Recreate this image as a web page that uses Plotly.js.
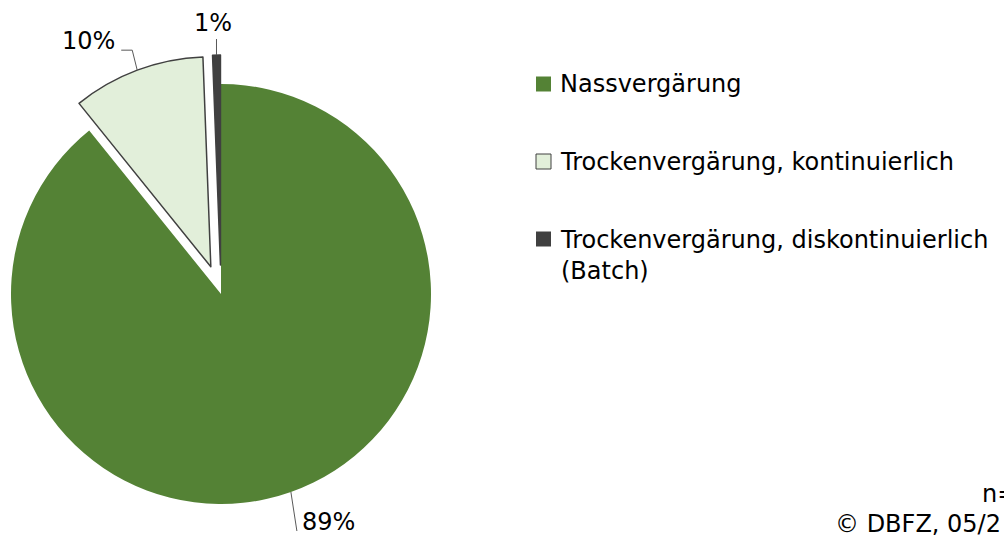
<!DOCTYPE html>
<html>
<head>
<meta charset="utf-8">
<script src="https://cdn.plot.ly/plotly-3.0.1.min.js"></script>
<style>html,body{margin:0;padding:0;background:#fff;}#chart{width:1004px;height:540px;}</style>
</head>
<body>
<div id="chart"></div>
<script>
// ---- data ----
const categories = ['Nassvergärung', 'Trockenvergärung, kontinuierlich', 'Trockenvergärung, diskontinuierlich (Batch)'];
const legendLabels = ['Nassvergärung', 'Trockenvergärung, kontinuierlich', 'Trockenvergärung, diskontinuierlich<br>(Batch)'];
const shares = [89.2, 10.2, 0.6];
const colors = ['#548235', '#E2EFDA', '#404040'];
const noteLines = ['n=', '© DBFZ, 05/2'];

// ---- geometry / style constants ----
const W = 1004, H = 540;
const CX = 221, CY = 294, R = 210;
const PULL = [0, 29, 29];                 // px explosion per slice
const LINE_W = [0, 1.5, 1.5];
const LINE_C = '#404040';
// leader line bend points and label centre, relative to arc point (px)
const LEADER = [
  [[6, 39]],
  [[-5, -20], [-16, -20]],
  [[0, -16]]
];
const LABEL_OFF = [[38, 30], [-49, -29], [-3, -32]];
const FONT = 'DejaVu Sans, sans-serif';

const px = x => x / W;
const py = y => 1 - y / H;

const total = shares.reduce((a, b) => a + b, 0);
let acc = 0;
const slices = shares.map(v => {
  const a0 = acc / total * 360;
  acc += v;
  const a1 = acc / total * 360;
  return {mid: (a0 + a1) / 2};
});

const traces = [];
const shapes = [];
const annotations = [];

slices.forEach((s, i) => {
  const rad = s.mid * Math.PI / 180;
  const ux = Math.sin(rad), uy = -Math.cos(rad);
  const cx = CX + PULL[i] * ux, cy = CY + PULL[i] * uy;
  const x0 = Math.max(0, cx - R), x1 = Math.min(W, cx + R);
  const y0 = Math.max(0, cy - R), y1 = Math.min(H, cy + R);
  traces.push({
    type: 'pie',
    values: shares,
    labels: categories,
    sort: false,
    direction: 'clockwise',
    rotation: 0,
    textinfo: 'none',
    hoverinfo: 'label+percent',
    showlegend: false,
    domain: {x: [px(x0), px(x1)], y: [py(y1), py(y0)]},
    marker: {
      colors: colors.map((c, j) => j === i ? c : 'rgba(0,0,0,0)'),
      line: {color: LINE_C, width: colors.map((c, j) => j === i ? LINE_W[i] : 0)}
    }
  });
  // leader line
  const ax = cx + R * ux, ay = cy + R * uy;
  let d = `M ${px(ax)} ${py(ay)}`;
  LEADER[i].forEach(p => { d += ` L ${px(ax + p[0])} ${py(ay + p[1])}`; });
  shapes.push({type: 'path', xref: 'paper', yref: 'paper', path: d,
    line: {color: '#595959', width: 1}});
  annotations.push({
    xref: 'paper', yref: 'paper', x: px(ax + LABEL_OFF[i][0]), y: py(ay + LABEL_OFF[i][1]),
    xanchor: 'center', yanchor: 'middle', showarrow: false,
    text: Math.round(shares[i] / total * 100) + '%',
    font: {family: FONT, size: 24, color: '#000'}
  });
});

// manual legend
const LEG_X = 536, LEG_SW = 15, LEG_TX = 558, LEG_Y0 = 84, LEG_DY = 77.5;
legendLabels.forEach((lab, i) => {
  const yc = LEG_Y0 + i * LEG_DY;
  shapes.push({type: 'rect', xref: 'paper', yref: 'paper',
    x0: px(LEG_X), x1: px(LEG_X + LEG_SW), y0: py(yc + LEG_SW / 2), y1: py(yc - LEG_SW / 2),
    fillcolor: colors[i], line: {color: i === 1 ? LINE_C : colors[i], width: i === 1 ? 1 : 0}});
  const multi = lab.indexOf('<br>') >= 0;
  annotations.push({
    xref: 'paper', yref: 'paper', x: px(LEG_TX), y: py(multi ? yc + 16 : yc),
    xanchor: 'left', yanchor: 'middle', align: 'left', showarrow: false,
    text: lab, font: {family: FONT, size: 24, color: '#000'}
  });
});

// source note (cut at the right edge as in the original)
const NOTE = [[980, 494], [833, 524]];
noteLines.forEach((t, i) => {
  annotations.push({
    xref: 'paper', yref: 'paper', x: px(NOTE[i][0]), y: py(NOTE[i][1]),
    xanchor: 'left', yanchor: 'middle', showarrow: false,
    text: t, font: {family: FONT, size: 24, color: '#000'}
  });
});

const layout = {
  width: W, height: H,
  margin: {l: 0, r: 0, t: 0, b: 0, pad: 0},
  paper_bgcolor: '#fff',
  showlegend: false,
  shapes: shapes,
  annotations: annotations
};

Plotly.newPlot('chart', traces, layout, {displayModeBar: false, staticPlot: true});
</script>
</body>
</html>
